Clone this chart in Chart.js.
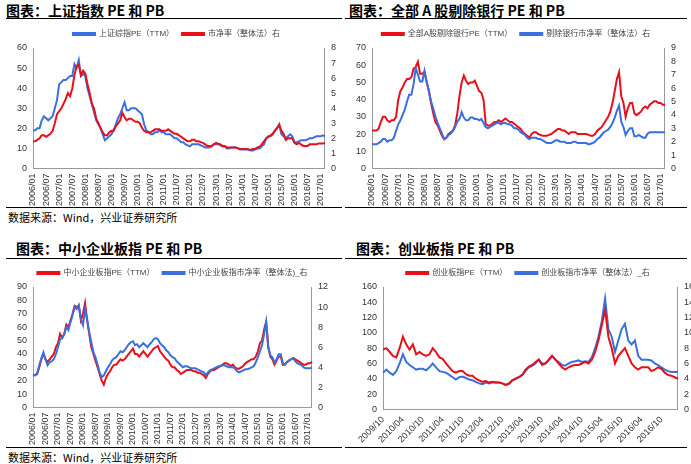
<!DOCTYPE html>
<html><head><meta charset="utf-8">
<script src="https://cdn.jsdelivr.net/npm/chart.js@4"></script>
<style>
body{margin:0;width:691px;height:464px;overflow:hidden;background:#fff;position:relative;font-family:"Noto Sans CJK SC",sans-serif}
.t{position:absolute;font-weight:bold;font-size:14px;color:#000;font-family:"Noto Sans CJK SC"}
.hr{position:absolute;height:1px;background:#000}
.src{position:absolute;font-size:11px;color:#000}
canvas{position:absolute}
</style></head><body>
<div class="t" style="left:6px;top:0px">图表：上证指数 PE 和 PB</div>
<div class="t" style="left:349px;top:0px">图表：全部 A 股剔除银行 PE 和 PB</div>
<div class="t" style="left:16px;top:238px">图表：中小企业板指 PE 和 PB</div>
<div class="t" style="left:356px;top:238px">图表：创业板指 PE 和 PB</div>
<div class="hr" style="left:6px;top:18px;width:336px"></div>
<div class="hr" style="left:345px;top:18px;width:342px"></div>
<div class="hr" style="left:6px;top:207px;width:336px"></div>
<div class="hr" style="left:345px;top:207px;width:342px"></div>
<div class="hr" style="left:6px;top:258px;width:336px"></div>
<div class="hr" style="left:345px;top:258px;width:342px"></div>
<div class="hr" style="left:6px;top:447px;width:336px"></div>
<div class="hr" style="left:345px;top:447px;width:342px"></div>
<div class="src" style="left:8px;top:209px">数据来源：Wind，兴业证券研究所</div>
<div class="src" style="left:8px;top:449px">数据来源：Wind，兴业证券研究所</div>
<canvas id="c1" style="left:0;top:20px"></canvas>
<canvas id="c2" style="left:345px;top:20px"></canvas>
<canvas id="c3" style="left:0;top:259px"></canvas>
<canvas id="c4" style="left:345px;top:259px"></canvas>
<script>
function months(y0,m0,y1,m1){const a=[];let y=y0,m=m0;while(y<y1||(y===y1&&m<=m1)){a.push(y+'/'+String(m).padStart(2,'0'));m++;if(m>12){m=1;y++;}}return a;}
const labelsA = months(2006,1,2017,3);
const labelsB = months(2009,10,2017,3);

const shPE=[19,19,20,20,24,26,25,24,25,26,30,34, 42,43,44,44,45,46,46,52,50,54,46,47, 46,40,36,32,28,24,22,20,17,14,15,16, 17,19,22,25,27,30,33,29,29,30,30,30, 29,28,27,22,19,18,17,17,18,18,19,18, 18,17,17,17,16,15,15,14,13,13,12,11.5, 11,12,12,12,12,11.5,11,10.5,10.5,10.5,11,12, 12,12,11.5,11,11,10,10,10.5,10.5,10.5,10,9.5, 9.5,9.5,9.5,9.5,9,9,9.5,10,10,11,12,15, 16,16,17,19,20,22,17,16,15,16,17,16, 13,13,13.5,14,14,14,14.5,15,15,15.5,16,16, 16,16.5,16];
const shPB=[1.8,1.8,1.9,2.0,2.2,2.2,2.1,2.2,2.3,2.5,3.0,3.6, 3.8,4.0,4.3,4.6,5.0,4.8,5.3,6.2,6.8,6.9,6.2,6.5, 6.3,5.6,5.0,4.3,4.0,3.3,3.0,2.7,2.4,2.2,2.2,2.4, 2.5,2.5,2.8,3.0,3.2,3.7,3.4,3.2,3.3,3.3,3.2,3.1, 3.1,3.0,2.7,2.5,2.4,2.4,2.4,2.5,2.6,2.6,2.6,2.5, 2.5,2.5,2.6,2.5,2.4,2.3,2.3,2.2,2.1,2.0,1.9,1.8, 1.8,1.9,1.9,1.8,1.8,1.75,1.7,1.6,1.5,1.5,1.5,1.6, 1.7,1.65,1.6,1.5,1.5,1.4,1.4,1.4,1.4,1.4,1.35,1.3, 1.3,1.3,1.3,1.25,1.25,1.3,1.3,1.4,1.45,1.6,1.8,2.0, 2.1,2.2,2.3,2.5,2.7,2.9,2.5,2.3,1.9,2.0,2.0,2.0, 1.7,1.6,1.7,1.6,1.5,1.5,1.5,1.6,1.6,1.6,1.6,1.65, 1.65,1.65,1.7];
const exPE=[22,22,22,23,27,30,30,28,27,28,28,30, 40,45,47,50,52,52,53,58,59,62,55,55, 56,50,45,38,32,27,25,22,19,17,18,20, 21,22,25,32,42,50,54,51,49,50,50,51, 48,45,44,40,26,25,25,26,27,27,28,27, 28,29,28,27,27,26,25,24,23,21,20,19, 18,20,21,21,20,19.5,19,19,19,19.5,20,21, 22,23,23,22,22,21,20,21,21,21,20,20, 20,20,20,19.5,19,19,20,22,23,24,26,28, 30,33,38,45,52,56,42,38,30,35,38,38, 32,31,32,33,35,36,35,37,38,39,39,38, 38,37,37];
const exPB=[1.8,1.8,1.8,1.9,2.0,2.2,2.2,2.0,2.1,2.1,2.3,2.8, 3.3,3.6,4.0,4.4,5.0,5.5,5.5,6.3,7.5,7.0,6.5,6.5, 7.3,6.5,5.8,5.0,4.5,3.9,3.4,3.0,2.6,2.2,2.3,2.5, 2.6,2.8,3.1,3.5,3.7,4.2,3.8,3.6,3.6,3.8,3.8,3.7, 3.7,3.6,3.7,3.4,3.1,3.0,3.1,3.2,3.3,3.4,3.4,3.3, 3.4,3.4,3.3,3.3,3.2,3.0,3.0,2.9,2.7,2.6,2.5,2.3, 2.2,2.3,2.3,2.3,2.2,2.2,2.1,2.0,1.9,1.9,1.9,2.0, 2.1,2.1,2.0,2.0,2.0,1.9,1.9,1.9,2.0,2.0,1.9,1.9, 1.9,1.9,1.9,1.8,1.85,1.9,2.0,2.2,2.3,2.5,2.7,2.8, 2.9,3.1,3.4,3.8,4.3,4.7,3.5,3.1,2.5,2.8,3.0,3.0, 2.4,2.4,2.5,2.4,2.3,2.3,2.6,2.7,2.7,2.7,2.7,2.7, 2.7,2.7,2.7];
const smePE=[24,24,25,30,36,40,36,34,36,38,40,45, 48,55,52,55,62,60,65,70,76,75,76,65, 70,78,65,55,45,40,35,30,25,20,17,22, 25,27,30,32,32,34,36,35,36,38,40,42, 44,40,40,38,40,42,40,38,40,42,44,45, 46,42,40,38,36,35,32,30,30,28,27,25, 26,27,28,28,28,27,27,26,26,25,24,22, 25,27,28,28,29,30,31,32,33,33,32,31, 32,30,29,29,30,31,33,34,35,36,36,38, 42,48,50,58,64,45,38,36,32,35,38,38, 32,32,34,35,36,37,36,35,34,33,32,32, 33,33,34];
const smePB=[3.3,3.2,3.4,4.2,4.9,5.5,4.8,4.2,4.5,4.6,4.8,5.3, 6.0,6.8,6.9,7.3,8.0,7.7,8.5,9.2,10.0,9.8,10.2,8.8, 8.2,9.8,8.8,7.5,6.5,5.5,5.0,4.3,3.5,3.0,3.2,3.6, 4.0,4.3,4.7,4.9,5.0,5.3,5.6,5.5,5.7,6.0,6.3,6.5, 6.6,6.2,6.3,6.0,6.2,6.4,6.2,6.0,6.3,6.5,6.8,6.9, 6.8,6.4,6.2,6.0,5.7,5.5,5.2,5.0,4.9,4.6,4.4,4.2, 4.0,4.1,4.1,4.0,3.9,3.9,3.9,3.8,3.7,3.6,3.5,3.2, 3.5,3.7,3.8,3.9,4.0,4.1,4.1,4.2,4.2,4.1,4.0,4.0, 4.0,3.9,3.6,3.5,3.6,3.7,3.8,3.8,3.9,4.0,4.1,4.5, 5.0,5.6,6.2,7.3,8.5,6.0,5.2,5.0,4.5,4.8,5.3,5.3, 4.4,4.3,4.5,4.7,4.8,4.9,4.6,4.4,4.3,4.2,4.0,3.9, 3.9,3.9,4.0];
const cnPE=[78,80,75, 70,68,80,95,85,78,85,72,75,72,70,72, 80,75,68,66,60,55,50,48,50,50,46,44, 44,40,38,36,37,35,36,35,35,34,32,34, 38,40,42,45,52,56,58,62,65,58,60,65, 70,65,60,55,52,55,57,58,58,60,62,60, 65,75,90,110,130,95,80,60,70,75,80,70, 60,55,52,55,55,55,50,52,55,53,48,45, 44,42,40];
const cnPB=[4.8,5.2,4.8, 4.5,5.0,6.0,7.2,6.2,5.8,5.5,5.2,5.3,5.3,5.1,5.5, 6.0,5.5,5.0,4.9,4.8,4.5,4.2,3.9,4.2,4.3,4.1,3.9, 3.8,3.6,3.4,3.3,3.5,3.4,3.5,3.5,3.5,3.4,3.2,3.3, 3.8,4.0,4.2,4.5,5.0,5.5,5.7,6.0,6.5,6.0,6.0,6.4, 7.0,6.5,6.2,5.8,5.7,6.0,6.2,6.3,6.4,6.2,6.3,6.2, 6.8,8.0,9.5,11.5,14.5,10.5,9.5,7.5,9.0,10.5,11.2,9.0, 8.5,9.0,7.0,6.5,6.5,6.5,6.4,6.0,5.8,5.5,5.2,5.0, 4.9,4.9,4.9];

const RED='#e8101a', BLUE='#3a6fe0';
const F={family:'"Liberation Sans","Noto Sans CJK SC",sans-serif',size:9};
function make(id,w,h,labels,sets,yl,yr,rot,pad){
  const c=document.getElementById(id);c.width=w;c.height=h;
  new Chart(c,{type:'line',data:{labels,datasets:sets.map(s=>({label:s.l,data:s.d,borderColor:s.c,backgroundColor:s.c,borderWidth:2,pointRadius:0,tension:0,yAxisID:s.a,order:s.o}))},
  options:{responsive:false,animation:false,layout:{padding:pad},
   plugins:{legend:{labels:{font:{...F,size:8},color:'#444',boxWidth:22,boxHeight:2,padding:8,sort:(a,b)=>a.datasetIndex-b.datasetIndex}},tooltip:{enabled:false}},
   scales:{
    x:{grid:{display:false,drawTicks:true,tickLength:3,color:'#999'},border:{color:'#999'},
       ticks:{autoSkip:false,font:F,color:'#333',maxRotation:rot,minRotation:rot,padding:2,callback:function(v,i){return i%6===0?labels[i]:null;}}},
    y:{position:'left',min:0,max:yl[0],grid:{display:false,tickLength:3,color:'#999'},border:{color:'#999'},ticks:{autoSkip:false,stepSize:yl[1],font:F,color:'#333'}},
    y1:{position:'right',min:0,max:yr[0],grid:{display:false,tickLength:3,color:'#999'},border:{color:'#999'},ticks:{autoSkip:false,stepSize:yr[1],font:F,color:'#333'}}
   }}});
}
make('c1',345,188,labelsA,[{l:'上证综指PE（TTM）',d:shPE,c:BLUE,a:'y',o:2},{l:'市净率（整体法）右',d:shPB,c:RED,a:'y1',o:1}],[60,10],[8,1],90,{left:14,right:6,top:2,bottom:0});
make('c2',346,188,labelsA,[{l:'全部A股剔除银行PE（TTM）',d:exPE,c:RED,a:'y',o:2},{l:'剔除银行市净率（整体法）右',d:exPB,c:BLUE,a:'y1',o:1}],[70,10],[9,1],90,{left:8,right:12,top:2,bottom:0});
make('c3',345,188,labelsA,[{l:'中小企业板指PE（TTM）',d:smePE,c:RED,a:'y',o:2},{l:'中小企业板指市净率（整体法)_右',d:smePB,c:BLUE,a:'y1',o:1}],[90,10],[12,2],90,{left:14,right:14,top:2,bottom:0});
make('c4',352,188,labelsB,[{l:'创业板指PE（TTM）',d:cnPE,c:RED,a:'y',o:1},{l:'创业板指市净率（整体法）_右',d:cnPB,c:BLUE,a:'y1',o:2}],[160,20],[16,2],45,{left:14,right:0,top:2,bottom:0});
</script></body></html>
